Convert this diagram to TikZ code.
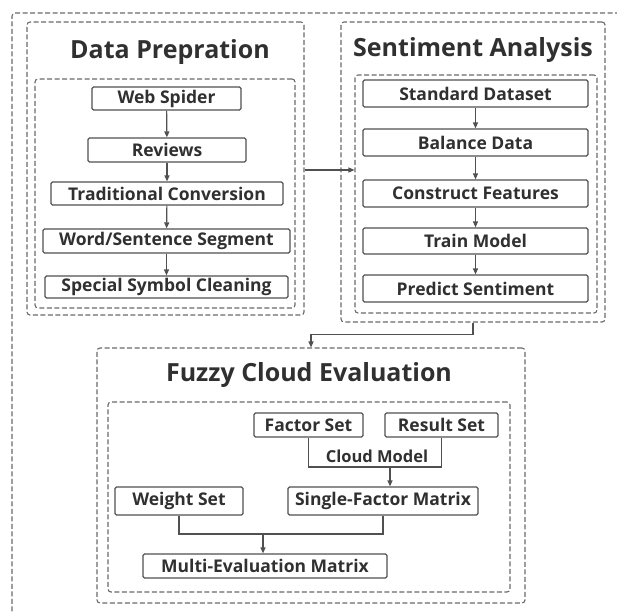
\documentclass[tikz,border=0pt]{standalone}
\usepackage{fontspec}
\setmainfont{Open Sans}
\usetikzlibrary{arrows.meta,calc}
\definecolor{txt}{HTML}{303030}
\definecolor{lin}{HTML}{505050}
\definecolor{dsh}{HTML}{6A6A6A}
\tikzset{
  stepbox/.style={draw=lin, line width=1.2pt, rounded corners=1.5pt, inner sep=0pt,
    text=txt, font=\fontsize{17.5}{20}\selectfont\bfseries, minimum height=24pt},
  dbox/.style={draw=dsh, line width=1.1pt, dash pattern=on 5pt off 2.5pt, rounded corners=3pt, inner sep=0pt},
  ttl/.style={text=txt, font=\fontsize{25}{30}\selectfont\bfseries, inner sep=0pt},
  lbl/.style={text=txt, font=\fontsize{16.5}{19}\selectfont\bfseries, inner sep=0pt},
  conn/.style={draw=lin, line width=1.2pt},
  arr/.style={conn, -{Triangle[length=6pt,width=5pt]}},
}
\begin{document}
\begin{tikzpicture}[x=1pt,y=-1pt]
\useasboundingbox (0,0) rectangle (617,611);
% outer frame (cut off at right and bottom)
\draw[dsh, line width=1.1pt, dash pattern=on 5pt off 2.5pt, rounded corners=3pt] (620,13) -- (12,13) -- (12,615);

% Data Prepration
\node[dbox, minimum width=277pt, minimum height=293pt] (dp) at (165.5,168.5) {};
\node[ttl] (dpt) at (170,52) {Data Prepration};
\node[dbox, minimum width=260pt, minimum height=229pt] (dpin) at (165,193.5) {};
\node[stepbox, minimum width=149pt, minimum height=23pt] (ws1) at (166.5,98.5) {Web Spider};
\node[stepbox, minimum width=158pt] (rv) at (167,150) {Reviews};
\node[stepbox, minimum width=232pt, minimum height=23pt] (tc) at (167,193.5) {Traditional Conversion};
\node[stepbox, minimum width=247pt] (wss) at (166.5,241) {Word/Sentence Segment};
\node[stepbox, minimum width=243pt, minimum height=22pt] (ssc) at (166.5,287) {Special Symbol Cleaning};
\draw[arr] (ws1) -- (rv);
\draw[arr] (rv) -- (tc);
\draw[arr] (tc) -- (wss);
\draw[arr] (wss) -- (ssc);

% Sentiment Analysis
\node[dbox, minimum width=264pt, minimum height=300pt] (sa) at (473,172) {};
\node[ttl] (sat) at (473,50) {Sentiment Analysis};
\node[dbox, minimum width=242pt, minimum height=238pt] (sain) at (476,194) {};
\node[stepbox, minimum width=225pt, minimum height=27pt] (sd) at (475.5,93.5) {Standard Dataset};
\node[stepbox, minimum width=225pt, minimum height=27pt] (bd) at (475.5,142.5) {Balance Data};
\node[stepbox, minimum width=225pt, minimum height=27pt] (cf) at (475.5,193.5) {Construct Features};
\node[stepbox, minimum width=225pt, minimum height=26pt] (tm) at (475.5,241) {Train Model};
\node[stepbox, minimum width=225pt, minimum height=27pt] (ps) at (475.5,288.5) {Predict Sentiment};
\draw[arr] (sd) -- (bd);
\draw[arr] (bd) -- (cf);
\draw[arr] (cf) -- (tm);
\draw[arr] (tm) -- (ps);

\draw[arr] (dp.east |- 0,170) -- (sain.west |- 0,170);

% Fuzzy Cloud Evaluation
\node[dbox, minimum width=428pt, minimum height=255pt] (fce) at (311,475.5) {};
\node[ttl] (fcet) at (309,375) {Fuzzy Cloud Evaluation};
\node[dbox, minimum width=402pt, minimum height=190pt] (fcein) at (309,497) {};
\node[stepbox, minimum width=109pt] (fs) at (308.5,425) {Factor Set};
\node[stepbox, minimum width=113pt] (rs) at (441.5,425) {Result Set};
\node[lbl] (cml) at (377,456) {Cloud Model};
\node[stepbox, minimum width=190pt, minimum height=28pt] (sf) at (383,501) {Single-Factor Matrix};
\node[stepbox, minimum width=128pt, minimum height=28pt] (wset) at (179,501) {Weight Set};
\node[stepbox, minimum width=244pt] (me) at (265,566) {Multi-Evaluation Matrix};

\draw[arr] (sa.south) -- ++(0,12) -| (fce.north);

\coordinate (j1) at (390,467);
\draw[conn] (fs.south) |- (j1) -| (rs.south);
\draw[arr] (j1) -- (j1 |- sf.north);
\coordinate (j2) at (263,534);
\draw[conn] (wset.south) |- (j2) -| (sf.south);
\draw[arr] (j2) -- (j2 |- me.north);
\end{tikzpicture}
\end{document}
